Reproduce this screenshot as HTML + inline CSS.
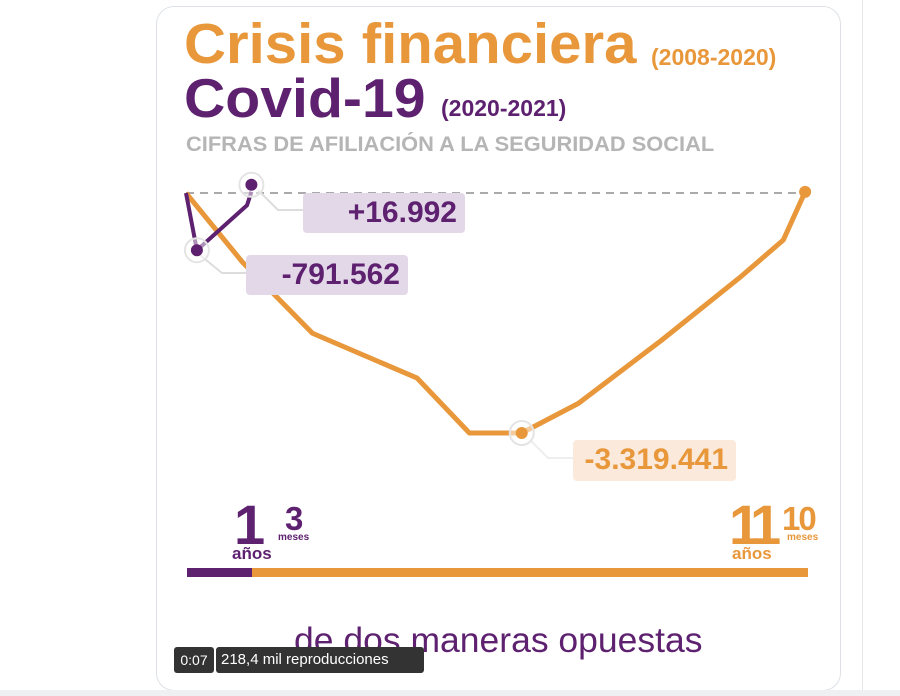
<!DOCTYPE html>
<html><head><meta charset="utf-8"><style>
body{margin:0;width:900px;height:696px;background:#fff;position:relative;overflow:hidden;font-family:"Liberation Sans",sans-serif}
.card{position:absolute;left:156px;top:6px;width:683px;height:683px;border:1px solid #dde1e6;border-radius:18px;background:#fff}
.t{position:absolute;font-weight:bold;white-space:nowrap;transform-origin:left top}
.lbl{position:absolute;border-radius:4px;font-weight:bold;font-size:30px;text-align:right;padding-right:8px;box-sizing:border-box;line-height:40px}
</style></head><body>
<div class="card"></div>
<div style="position:absolute;left:862px;top:0;width:1px;height:696px;background:#e6e6e6"></div>
<div style="position:absolute;left:0;top:690px;width:900px;height:6px;background:#eef0f2"></div>
<div class="t" style="left:184px;top:11px;font-size:57px;color:#e8973a;transform:scaleX(1.02)">Crisis financiera</div>
<div class="t" style="left:651px;top:44px;font-size:23px;color:#e8973a">(2008-2020)</div>
<div class="t" style="left:184px;top:66px;font-size:55px;color:#5e2170;transform:scaleX(1.04)">Covid-19</div>
<div class="t" style="left:441px;top:95px;font-size:23px;color:#5e2170">(2020-2021)</div>
<div class="t" style="left:186px;top:133px;font-size:21px;color:#b5b5b5;transform:scaleX(1.04)">CIFRAS DE AFILIACIÓN A LA SEGURIDAD SOCIAL</div>
<svg id="chart" width="900" height="696" style="position:absolute;left:0;top:0"></svg>
<div class="lbl" style="left:303px;top:193px;width:162px;height:40px;background:#e2d8e8;color:#5e2170">+16.992</div>
<div class="lbl" style="left:246px;top:255px;width:162px;height:40px;background:#e2d8e8;color:#5e2170">-791.562</div>
<div class="lbl" style="left:573px;top:440px;width:163px;height:41px;background:#fbeadb;color:#e8973a">-3.319.441</div>
<div class="t" style="left:234px;top:492px;font-size:56px;color:#5e2170;letter-spacing:-3px">1</div>
<div class="t" style="left:285px;top:500px;font-size:33px;color:#5e2170">3</div>
<div class="t" style="left:278px;top:532px;font-size:10px;color:#5e2170">meses</div>
<div class="t" style="left:232px;top:544px;font-size:17px;color:#5e2170">años</div>
<div class="t" style="left:729px;top:492px;font-size:56px;color:#e8973a;letter-spacing:-7px">11</div>
<div class="t" style="left:782px;top:500px;font-size:33px;color:#e8973a;letter-spacing:-2px">10</div>
<div class="t" style="left:787px;top:532px;font-size:10px;color:#e8973a">meses</div>
<div class="t" style="left:732px;top:544px;font-size:17px;color:#e8973a">años</div>
<div style="position:absolute;left:187px;top:568px;width:65px;height:9px;background:#5e2170"></div>
<div style="position:absolute;left:252px;top:568px;width:556px;height:9px;background:#e8973a"></div>
<div class="t" style="left:294px;top:620px;font-size:35.5px;color:#5e2170;font-weight:normal">de dos maneras opuestas</div>
<div style="position:absolute;left:174px;top:647px;width:40px;height:26px;background:#333;border-radius:3px;color:#fff;font-size:14px;line-height:26px;text-align:center">0:07</div>
<div style="position:absolute;left:216px;top:647px;width:208px;height:26px;background:#333;border-radius:3px;color:#fff;font-size:15px;line-height:26px;padding-left:5px;box-sizing:border-box">218,4 mil reproducciones</div>
<script>
const crisisMonths=[0,13,29,53,65,77,90,109,127,137,142];
const crisisValues=[0,-960000,-1940000,-2560000,-3319441,-3319441,-2910000,-2040000,-1170000,-650000,16000];
const covidMonths=[0,2.5,14,15];
const covidValues=[0,-791562,-170000,16992];
const svg=document.getElementById('chart');
const NS='http://www.w3.org/2000/svg';
const x=m=>186+m*4.36;
const y=v=>193-v*72.3/1e6;
function mk(t,a){const e=document.createElementNS(NS,t);for(const k in a)e.setAttribute(k,a[k]);svg.appendChild(e);return e;}
const base=mk('line',{x1:186,x2:807,y1:y(0),y2:y(0),stroke:'#aaa','stroke-width':2,'stroke-dasharray':'8,6'});


const c1=mk('polyline',{points:'258,190 278,210 303,210',fill:'none',stroke:'#ddd','stroke-width':2});


const c2=mk('polyline',{points:'200,255 222,273 246,273',fill:'none',stroke:'#ddd','stroke-width':2});


const c3=mk('polyline',{points:'530,440 548,458 573,458',fill:'none',stroke:'#eee','stroke-width':2});


const pc=mk('polyline',{points:crisisMonths.map((m,i)=>x(m)+','+y(crisisValues[i])).join(' '),fill:'none',stroke:'#e8973a','stroke-width':5,'stroke-linejoin':'round'});


const pv=mk('polyline',{points:covidMonths.map((m,i)=>x(m)+','+y(covidValues[i])).join(' '),fill:'none',stroke:'#5e2170','stroke-width':4,'stroke-linejoin':'round'});


function dot(cx,cy,col,ring,name){
 if(ring){const r=mk('circle',{cx,cy,r:12,fill:'rgba(255,255,255,0.5)',stroke:'#e4e4e4','stroke-width':2});}
 const d=mk('circle',{cx,cy,r:6,fill:col});
 
 
}
dot(x(covidMonths[1]),y(covidValues[1]),'#5e2170',true,'covid-min-point');
dot(x(covidMonths[3]),y(covidValues[3])-7,'#5e2170',true,'covid-end-point');
dot(x(crisisMonths[5]),y(crisisValues[5]),'#e8973a',true,'crisis-min-point');
dot(x(crisisMonths[10]),y(crisisValues[10]),'#e8973a',false,'crisis-end-point');
</script>
</body></html>
